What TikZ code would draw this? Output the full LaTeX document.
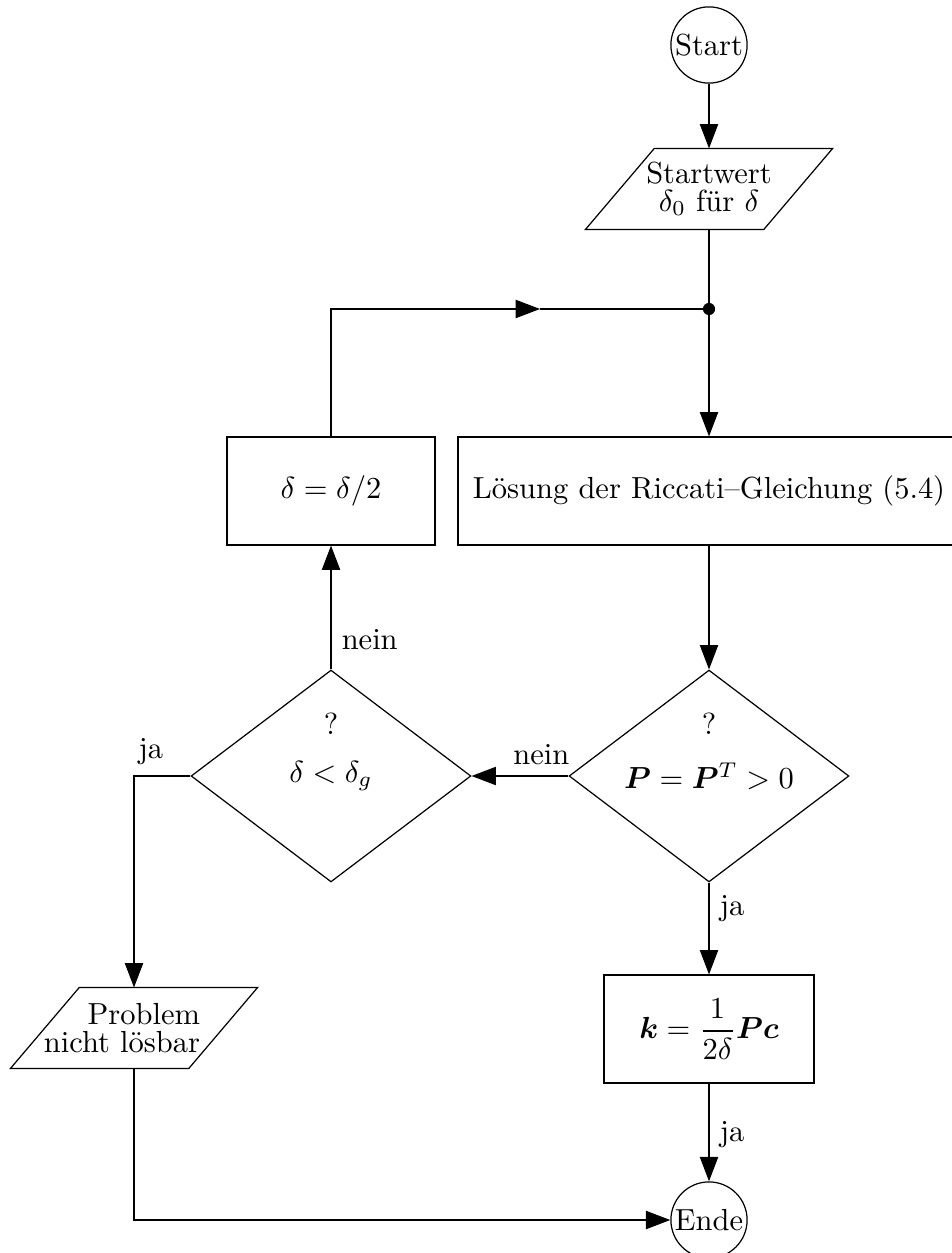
\documentclass[tikz,border=0pt]{standalone}
\usepackage{bm}
\usetikzlibrary{shapes.geometric,arrows.meta,positioning}

\begin{document}
\begin{tikzpicture}[x=0.328pt,y=-0.328pt,
  >={Triangle[length=8pt,width=6pt]},
  terminal/.style={circle,draw,minimum size=25pt,inner sep=0pt},
  inout/.style={minimum width=58.1pt,minimum height=26.2pt,inner sep=0pt,align=center},
  block/.style={rectangle,draw,minimum height=35.4pt,inner sep=0pt},
  decision/.style={diamond,draw,minimum width=91.8pt,minimum height=69.5pt,inner sep=0pt}]

\useasboundingbox (0,0) rectangle (951,1253) ;

\node[terminal] (start) at (709,45) {Start} ;
\node[inout] (sw) at (709,189) {Startwert\\[-3pt]$\delta_0$ für $\delta$} ;

\coordinate (jn) at (709,309) ;
\coordinate (mid) at (540,309) ;

\node[block,minimum width=68.2pt] (halve) at (331,491) {$\delta = \delta/2$} ;
\node[block,minimum width=164.7pt] (loes) at (709,491) {Lösung der Riccati--Gleichung (5.4)} ;

\node[decision] (ptest) at (709,776) {$\bm{P} = \bm{P}^T > 0$} ;
\node[decision] (dtest) at (331,776) {$\delta < \delta_g$} ;
\node (pq) [above=10pt of ptest.center] {?} ;
\node (dq) [above=10pt of dtest.center] {?} ;

\node[block,minimum width=68.9pt] (kbox) at (709,1029) {$\displaystyle \bm{k} = \frac{1}{2\delta}\bm{P}\bm{c}$} ;
\node[inout] (nl) at (134,1028) {} ;
\node[inner sep=0pt,align=right] (nltext) at (122,1028) {Problem\\[-3pt]nicht lösbar} ;
\node[terminal] (ende) at (709,1220) {Ende} ;

\foreach \n in {sw,nl}
  \draw ([xshift=11.3pt]\n.north west) -- ([xshift=11.3pt]\n.north east)
    -- ([xshift=-11.3pt]\n.south east) -- ([xshift=-11.3pt]\n.south west) -- cycle ;

\draw[->] (start) -- (sw) ;
\draw (sw) -- (jn) ;
\draw[->] (jn) -- (loes) ;
\fill (jn) circle (2pt) ;

\draw[->] (halve) |- (mid) ;
\draw (mid) -- (jn) ;

\draw[->] (loes) -- (ptest) ;
\draw[->] (ptest) -- node[pos=0.28,above] {nein} (dtest) ;
\draw[->] (dtest) -- node[pos=0.24,right] {nein} (halve) ;
\draw[->] (dtest.west) -| node[pos=0.35,above] {ja} (nl.north) ;

\draw[->] (ptest) -- node[pos=0.28,right] {ja} (kbox) ;
\draw[->] (kbox) -- node[pos=0.52,right] {ja} (ende) ;
\draw[->] (nl) |- (ende) ;

\end{tikzpicture}
\end{document}
